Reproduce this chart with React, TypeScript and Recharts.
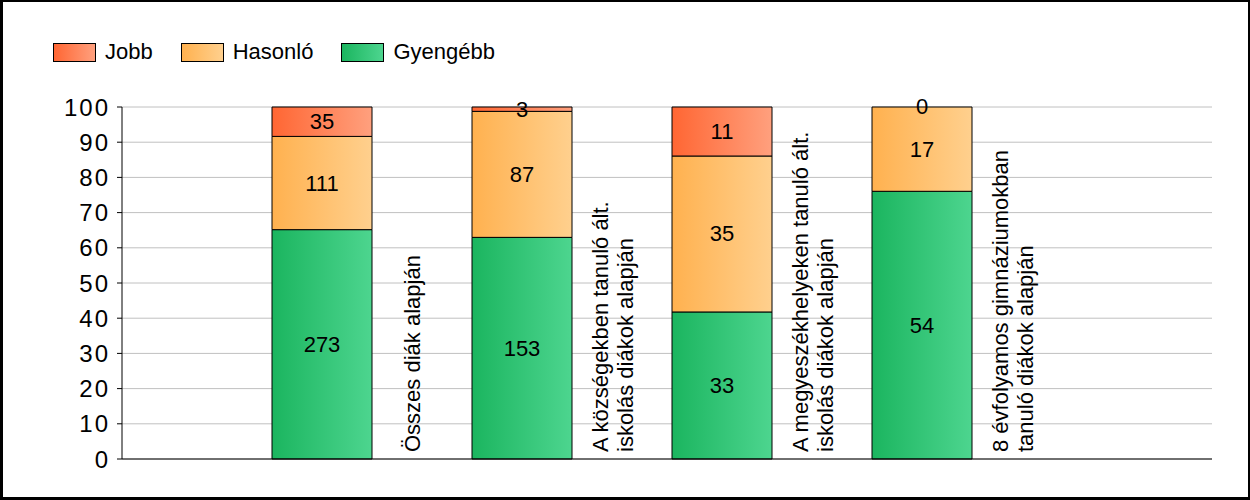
import React from 'react';
import { BarChart, Bar, XAxis, YAxis, CartesianGrid, LabelList } from 'recharts';

const categories: string[][] = [
  ['Összes diák alapján'],
  ['A községekben tanuló ált.', 'iskolás diákok alapján'],
  ['A megyeszékhelyeken tanuló ált.', 'iskolás diákok alapján'],
  ['8 évfolyamos gimnáziumokban', 'tanuló diákok alapján'],
];
const jobb = [35, 3, 11, 0];
const hasonlo = [111, 87, 35, 17];
const gyengebb = [273, 153, 33, 54];
const yTicks = [0, 10, 20, 30, 40, 50, 60, 70, 80, 90, 100];

const seriesNames = ['Jobb', 'Hasonló', 'Gyengébb'];
const gradients: Record<string, [string, string]> = {
  Jobb: ['#FF6633', '#FFA07E'],
  Hasonló: ['#FFB14F', '#FFD08E'],
  Gyengébb: ['#1BB55F', '#4DD58F'],
};

const data = categories.map((c, i) => {
  const total = jobb[i] + hasonlo[i] + gyengebb[i];
  return {
    name: c.join(' '),
    gy: (gyengebb[i] / total) * 100,
    ha: (hasonlo[i] / total) * 100,
    jo: (jobb[i] / total) * 100,
    gyN: gyengebb[i],
    haN: hasonlo[i],
    joN: jobb[i],
    // label for an empty top segment (zero-height bars get no label of their own)
    joZero: jobb[i] === 0 ? jobb[i] : null,
  };
});

const FONT = '"Liberation Sans", Arial, sans-serif';

const CategoryTick = (props: any) => {
  const { x, payload } = props;
  const lines = categories[payload.index] || [];
  const n = lines.length;
  return (
    <g>
      {lines.map((l, i) => {
        const bx = x + 98 + (i - (n - 1) / 2) * 25;
        return (
          <text
            key={i}
            transform={`translate(${bx},452) rotate(-90)`}
            x={0}
            y={0}
            textAnchor="start"
            fontSize={22}
            fontFamily={FONT}
            fill="#000"
          >
            {l}
          </text>
        );
      })}
    </g>
  );
};

const ValueLabel = (props: any) => {
  const { x, y, width, height, value } = props;
  if (value === null || value === undefined) return null;
  return (
    <text
      x={x + width / 2}
      y={y + height / 2}
      textAnchor="middle"
      dominantBaseline="central"
      fontSize={22}
      fontFamily={FONT}
      fill="#000"
    >
      {value}
    </text>
  );
};

const TopLabel = (props: any) => {
  const { x, y, width, value } = props;
  if (value === null || value === undefined) return null;
  return (
    <text
      x={x + width / 2}
      y={y - 1}
      textAnchor="middle"
      dominantBaseline="central"
      fontSize={22}
      fontFamily={FONT}
      fill="#000"
    >
      {value}
    </text>
  );
};

export default function App() {
  return (
    <div style={{ position: 'absolute', left: 0, top: 0, width: 1250, height: 500, background: '#fff' }}>
      <BarChart
        width={1250}
        height={500}
        data={data}
        margin={{ top: 107, right: 38, bottom: 0, left: 0 }}
      >
        <defs>
          {seriesNames.map((s, i) => (
            <linearGradient key={s} id={`grad${i}`} x1="0" y1="0" x2="1" y2="0">
              <stop offset="0%" stopColor={gradients[s][0]} />
              <stop offset="100%" stopColor={gradients[s][1]} />
            </linearGradient>
          ))}
        </defs>
        <CartesianGrid vertical={false} stroke="#c0c0c0" strokeWidth={1} />
        <XAxis
          dataKey="name"
          type="category"
          height={41}
          padding={{ left: 100, right: 190 }}
          axisLine={{ stroke: '#000', strokeWidth: 1 }}
          tickLine={false}
          tick={<CategoryTick />}
          interval={0}
        />
        <YAxis
          type="number"
          domain={[0, 100]}
          ticks={yTicks}
          width={122}
          axisLine={{ stroke: '#000', strokeWidth: 1 }}
          tickLine={{ stroke: '#000' }}
          tickSize={5}
          tickMargin={7}
          tick={{ fontSize: 24, fontFamily: FONT, fill: '#000', letterSpacing: 2 }}
          interval={0}
        />
        <Bar dataKey="gy" stackId="a" barSize={100} fill="url(#grad2)" stroke="#000" strokeWidth={1} isAnimationActive={false}>
          <LabelList dataKey="gyN" content={<ValueLabel />} />
        </Bar>
        <Bar dataKey="ha" stackId="a" barSize={100} fill="url(#grad1)" stroke="#000" strokeWidth={1} isAnimationActive={false}>
          <LabelList dataKey="haN" content={<ValueLabel />} />
          <LabelList dataKey="joZero" content={<TopLabel />} />
        </Bar>
        <Bar dataKey="jo" stackId="a" barSize={100} fill="url(#grad0)" stroke="#000" strokeWidth={1} isAnimationActive={false}>
          <LabelList dataKey="joN" content={<ValueLabel />} />
        </Bar>
      </BarChart>
      <div
        style={{
          position: 'absolute',
          left: 53,
          top: 41,
          display: 'flex',
          alignItems: 'center',
          gap: 28,
          fontFamily: FONT,
          fontSize: 22,
          color: '#000',
        }}
      >
        {seriesNames.map((s) => (
          <div key={s} style={{ display: 'flex', alignItems: 'center', gap: 9 }}>
            <div
              style={{
                width: 43,
                height: 19,
                boxSizing: 'border-box',
                border: '1px solid #000',
                background: `linear-gradient(to right, ${gradients[s][0]}, ${gradients[s][1]})`,
              }}
            />
            <span style={{ lineHeight: '22px' }}>{s}</span>
          </div>
        ))}
      </div>
      <div
        style={{
          position: 'absolute',
          left: 0,
          top: 0,
          width: 1250,
          height: 500,
          boxSizing: 'border-box',
          borderStyle: 'solid',
          borderColor: '#000',
          borderWidth: '2px 2px 3px 3px',
          pointerEvents: 'none',
        }}
      />
    </div>
  );
}
